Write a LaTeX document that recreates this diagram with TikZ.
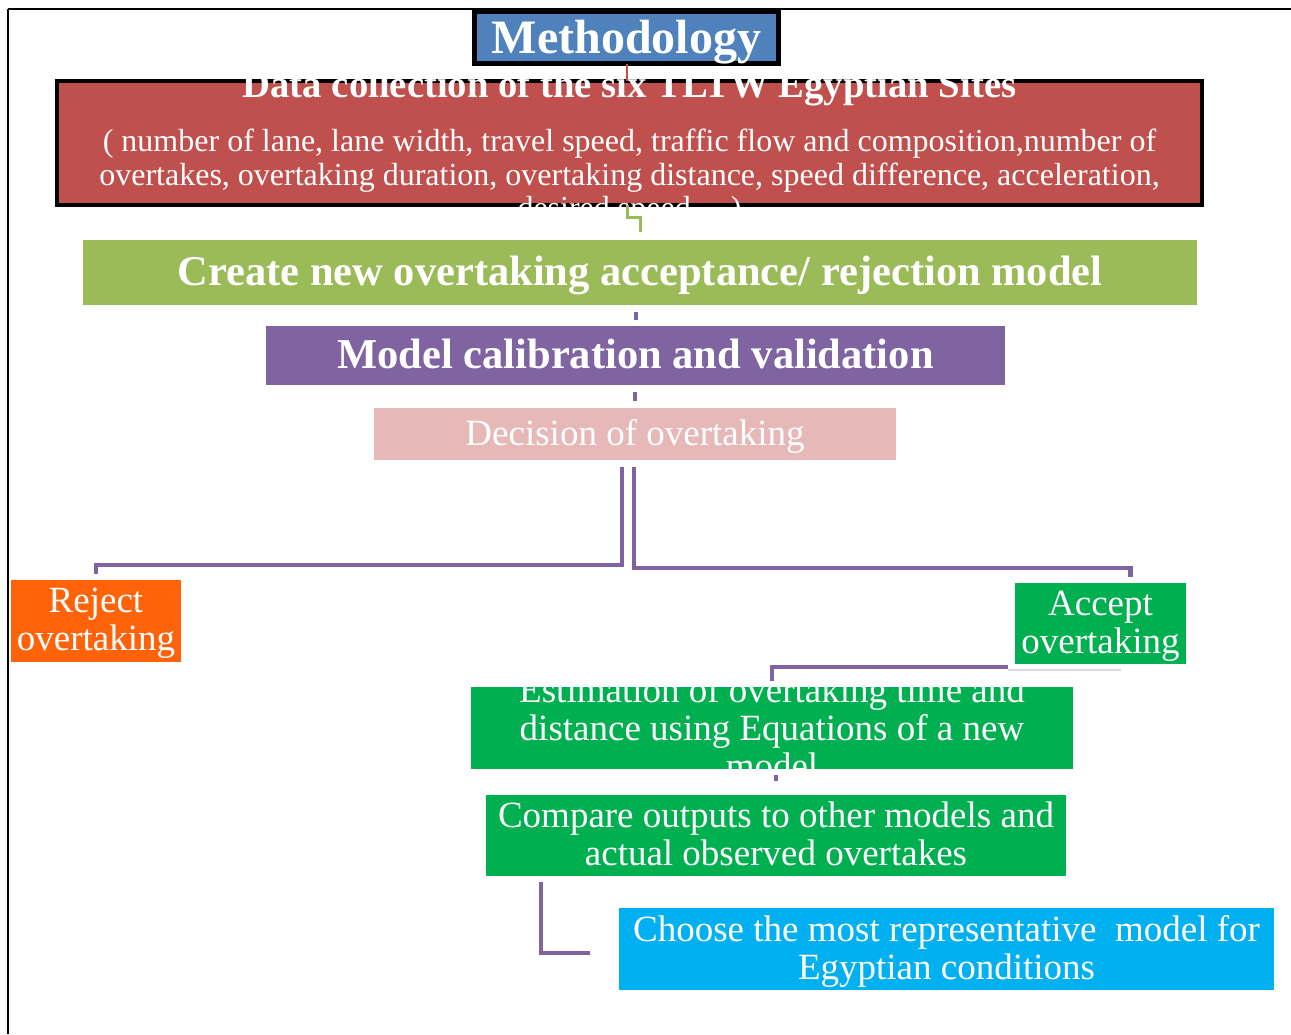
\documentclass[tikz,border=0pt]{standalone}
\usepackage{fontspec}
\setmainfont{Liberation Serif}
\usepackage{xcolor}
\usepackage{tikz}
\usetikzlibrary{calc}
\definecolor{methblue}{HTML}{4F81BD}
\definecolor{datared}{HTML}{C0504D}
\definecolor{modelgreen}{HTML}{9BBB59}
\definecolor{calpurple}{HTML}{8064A2}
\definecolor{decpink}{HTML}{E6B9B8}
\definecolor{rejorange}{HTML}{FF6309}
\definecolor{accgreen}{HTML}{00B050}
\definecolor{chocyan}{HTML}{00B0F0}
\definecolor{faintlilac}{HTML}{DCD6E8}
\tikzset{
  box/.style={inner sep=0pt,outer sep=0pt,text=white,align=center},
  bigbold/.style={font=\fontsize{42.5}{44}\selectfont\bfseries,text depth=3pt},
  plain/.style={font=\fontsize{37}{38}\selectfont,text depth=3pt},
  link/.style={draw=calpurple,line width=4.5pt},
  tick/.style={draw=calpurple,line width=4pt}
}

\begin{document}
\begin{tikzpicture}[x=1pt,y=-1pt]
  \useasboundingbox (0,0) rectangle (1291,1034);
  \draw[line width=2pt] (8,9) -- (1291,9);
  \draw[line width=1.5pt] (8,9) -- (8,1034);
  % boxes
  \node[box,fill=datared,draw=black,line width=4pt,minimum width=1145pt,minimum height=124pt] (data) at (629.5,143) {};
  \node[box,fill=methblue,draw=black,line width=5pt,minimum width=304pt,minimum height=52pt,font=\fontsize{48}{50}\selectfont\bfseries,text depth=2pt] (meth) at (626.5,37.5) {Methodology};
  \node[box,fill=modelgreen,minimum width=1114pt,minimum height=65pt,bigbold] (create) at (640,272.5) {Create new overtaking acceptance/ rejection model};
  \node[box,fill=calpurple,minimum width=739pt,minimum height=59pt,bigbold] (calib) at (635.5,355.5) {Model calibration and validation};
  \node[box,fill=decpink,minimum width=522pt,minimum height=52pt,plain] (decide) at (635,434) {Decision of overtaking};
  \node[box,fill=rejorange,minimum width=170pt,minimum height=82pt,plain] (reject) at (96,621) {Reject\\overtaking};
  \node[box,fill=accgreen,minimum width=171pt,minimum height=81pt,plain] (accept) at (1100.5,623.5) {Accept\\overtaking};
  \node[box,fill=accgreen,minimum width=602pt,minimum height=82pt] (estim) at (772,728) {};
  \node[box,fill=accgreen,minimum width=580pt,minimum height=81pt,plain] (compare) at (776,835.5) {Compare outputs to other models and\\actual observed overtakes};
  \node[box,fill=chocyan,minimum width=655pt,minimum height=82pt,plain] (choose) at (946.5,949) {Choose the most representative\ \ model for\\Egyptian conditions};
  % texts running over their boxes
  \node[box,anchor=base,font=\fontsize{38.7}{40}\selectfont\bfseries] (datatitle) at (629.5,97) {Data collection of the six TLTW Egyptian Sites};
  \node[box,anchor=north,font=\fontsize{32}{33.5}\selectfont] (databody) at (629.5,129) {( number of lane, lane width, travel speed, traffic flow and composition,number of\\overtakes, overtaking duration, overtaking distance, speed difference, acceleration,\\desired speed \ldots)};
  \node[box,font=\fontsize{37}{38}\selectfont] (estimtext) at (estim.center) {Estimation of overtaking time and\\distance using Equations of a new\\model};
  % connectors
  \draw[datared,line width=2pt] (meth.south) -- (meth.south |- data.north);
  \draw[modelgreen,line width=3pt] ([xshift=-2pt]data.south) -- ++(0,12) -| ([yshift=8pt]create.north);
  \draw[tick] ([yshift=6pt]calib.north) -- +(0,-8);
  \draw[tick] ([yshift=7pt]decide.north) -- +(0,-9);
  \draw[link] ([xshift=-13pt,yshift=-7pt]decide.south) -- ++(0,98) -| ([yshift=6pt]reject.north);
  \draw[link] ([xshift=-1pt,yshift=-7pt]decide.south) -- ++(0,101) -| ([xshift=30pt,yshift=6pt]accept.north);
  \draw[link] ([xshift=-7pt,yshift=-3pt]accept.south west) -| ([yshift=6pt]estim.north);
  \draw[faintlilac,line width=1.5pt] ([xshift=-7pt,yshift=-6pt]accept.south west) -- ++(113,0);
  \draw[tick] ([xshift=4pt,yshift=-6pt]estim.south) -- ([yshift=14pt]compare.north);
  \draw[link] ([xshift=55pt,yshift=-6pt]compare.south west) |- ([xshift=-29pt,yshift=-4pt]choose.west);
\end{tikzpicture}
\end{document}
